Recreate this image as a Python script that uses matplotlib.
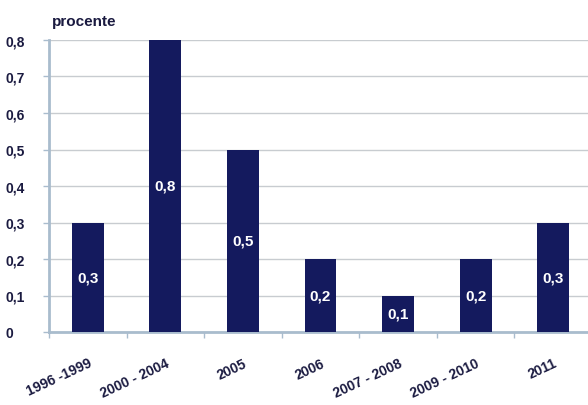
import numpy as np
import matplotlib.pyplot as plt

# Data
categories = ['1996 -1999', '2000 - 2004', '2005', '2006',
              '2007 - 2008', '2009 - 2010', '2011']
values = [0.3, 0.8, 0.5, 0.2, 0.1, 0.2, 0.3]

bar_color = '#141a5e'
axis_color = '#a9bccd'
grid_color = '#c8ccd0'
text_color = '#1a1a40'

plt.rcParams['font.family'] = ['Liberation Sans', 'DejaVu Sans']
plt.rcParams['font.weight'] = 'bold'

fig = plt.figure(figsize=(5.88, 4.06), dpi=100)
W, H = 588, 406
ax = fig.add_axes([49 / W, (H - 333) / H, (592 - 49) / W, (333 - 41) / H])

x = np.arange(len(categories))
ax.bar(x, values, width=0.41, color=bar_color, zorder=3)

# value labels in the middle of each bar
for xi, v in zip(x, values):
    ax.text(xi, v / 2, f'{v:.1f}'.replace('.', ','), color='white',
            ha='center', va='center', fontsize=11, fontweight='bold', zorder=4)

ax.set_xlim(-0.5, len(categories) - 0.5)
ax.set_ylim(0, 0.8)
ax.set_yticks(np.arange(0, 0.81, 0.1))
ax.set_yticklabels(['0'] + [f'{t:.1f}'.replace('.', ',') for t in np.arange(0.1, 0.81, 0.1)])
ax.yaxis.grid(True, color=grid_color, linewidth=1, zorder=0)

ax.set_xticks(x)
ax.set_xticklabels(categories, rotation=25, ha='right', rotation_mode='anchor')
ax.set_xticks(np.arange(-0.5, len(categories), 1), minor=True)
ax.tick_params(axis='x', which='major', length=0, pad=17, labelsize=10,
               labelcolor=text_color)
ax.tick_params(axis='x', which='minor', length=4, color=axis_color, width=1)
ax.tick_params(axis='y', length=4, color=axis_color, width=1, pad=0,
               labelsize=10, labelcolor=text_color)
# y labels left-aligned near the figure edge
for lab in ax.get_yticklabels():
    lab.set_horizontalalignment('left')
    lab.set_transform(ax.get_yaxis_transform())
    lab.set_position((-44 / 543, lab.get_position()[1]))

for side in ['top', 'right']:
    ax.spines[side].set_visible(False)
ax.spines['left'].set_color(axis_color)
ax.spines['left'].set_linewidth(2)
ax.spines['bottom'].set_color(axis_color)
ax.spines['bottom'].set_linewidth(2)

fig.text(52 / W, 1 - 22 / H, 'procente', fontsize=11, fontweight='bold',
         color=text_color, va='center', ha='left')

fig.savefig('out.png', dpi=100)
